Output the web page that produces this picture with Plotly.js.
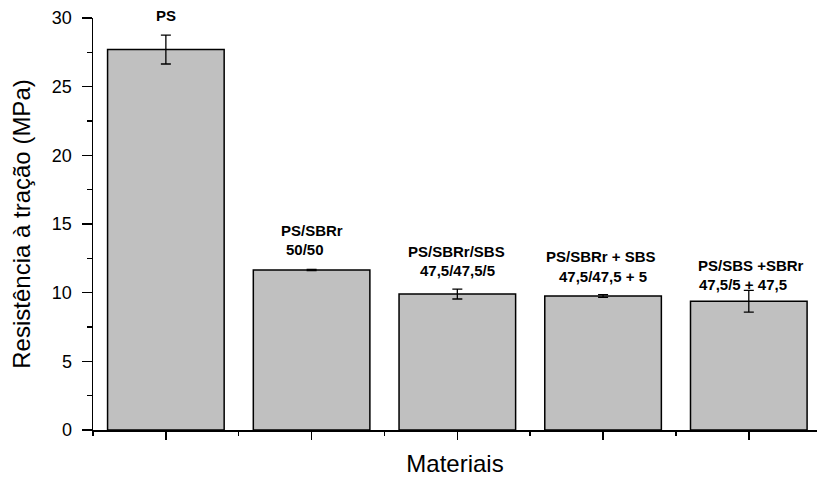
<!DOCTYPE html>
<html>
<head>
<meta charset="utf-8">
<script src="https://cdn.plot.ly/plotly-3.0.1.min.js"></script>
<style>html,body{margin:0;padding:0;background:#fff;}#chart{width:817px;height:477px;}</style>
</head>
<body>
<div id="chart"></div>
<script>
// ---- data ----
const categories = ["PS", "PS/SBRr 50/50", "PS/SBRr/SBS 47,5/47,5/5", "PS/SBRr + SBS 47,5/47,5 + 5", "PS/SBS +SBRr 47,5/5 + 47,5"];
const tensileStrength = [27.7, 11.65, 9.9, 9.76, 9.38];
const errors = [1.05, 0.04, 0.36, 0.1, 0.79];
const labelLine1 = ["PS", "PS/SBRr", "PS/SBRr/SBS", "PS/SBRr + SBS", "PS/SBS +SBRr"];
const labelLine2 = ["", "50/50", "47,5/47,5/5", "47,5/47,5 + 5", "47,5/5 + 47,5"];

// ---- label placement (layout only; x in axis units, y in paper units) ----
const line1Pos = [[0, 1.0055], [1.0, 0.485], [1.997, 0.4335], [2.986, 0.4215], [4.015, 0.3995]];
const line2Pos = [[0, 0], [0.954, 0.4385], [2.0, 0.3875], [3.0, 0.3725], [3.96, 0.3535]];

const xIdx = categories.map((c, i) => i);

const trace = {
  type: "bar",
  x: xIdx,
  y: tensileStrength,
  width: 0.8,
  marker: {color: "#c0c0c0", line: {color: "#000", width: 1.5}},
  error_y: {type: "data", array: errors, visible: true, color: "#000", thickness: 1.3, width: 5},
  hoverinfo: "none"
};

const annFont = {family: "Liberation Sans, Arial, sans-serif", size: 15, color: "#000", weight: "bold"};
const annotations = [];
labelLine1.forEach((t, i) => {
  if (t) annotations.push({text: "<b>" + t + "</b>", x: line1Pos[i][0], y: line1Pos[i][1], xref: "x", yref: "paper",
    showarrow: false, xanchor: "center", yanchor: "middle", font: annFont});
});
labelLine2.forEach((t, i) => {
  if (t) annotations.push({text: "<b>" + t + "</b>", x: line2Pos[i][0], y: line2Pos[i][1], xref: "x", yref: "paper",
    showarrow: false, xanchor: "center", yanchor: "middle", font: annFont});
});

const layout = {
  width: 817, height: 477,
  margin: {l: 93, r: 0, t: 18, b: 47, pad: 0},
  paper_bgcolor: "#fff", plot_bgcolor: "#fff",
  showlegend: false,
  font: {family: "Liberation Sans, Arial, sans-serif", color: "#000"},
  xaxis: {
    range: [-0.5, 4.468], showgrid: false, zeroline: false,
    showline: true, linecolor: "#000", linewidth: 1.5,
    tickmode: "array", tickvals: xIdx, ticks: "outside", ticklen: 8, tickwidth: 1.5, tickcolor: "#000",
    showticklabels: false,
    minor: {tickmode: "array", tickvals: [-0.5, 0.5, 1.5, 2.5, 3.5], ticks: "outside", ticklen: 4, tickwidth: 1.5, tickcolor: "#000"},
    title: {text: "Materiais", font: {size: 24, color: "#000"}, standoff: 21},
    automargin: false, fixedrange: true
  },
  yaxis: {
    range: [0, 30], showgrid: false, zeroline: false,
    showline: true, linecolor: "#000", linewidth: 1.5,
    tickmode: "linear", tick0: 0, dtick: 5, ticks: "outside", ticklen: 10, tickwidth: 1.5, tickcolor: "#000",
    ticklabelstandoff: 6,
    tickfont: {size: 18, color: "#000"},
    minor: {dtick: 2.5, ticks: "outside", ticklen: 5, tickwidth: 1.5, tickcolor: "#000"},
    title: {text: "Resistência à tração (MPa)", font: {size: 24, color: "#000"}, standoff: 14},
    automargin: false, fixedrange: true
  },
  annotations: annotations
};

Plotly.newPlot("chart", [trace], layout, {displayModeBar: false, staticPlot: true});
</script>
</body>
</html>
